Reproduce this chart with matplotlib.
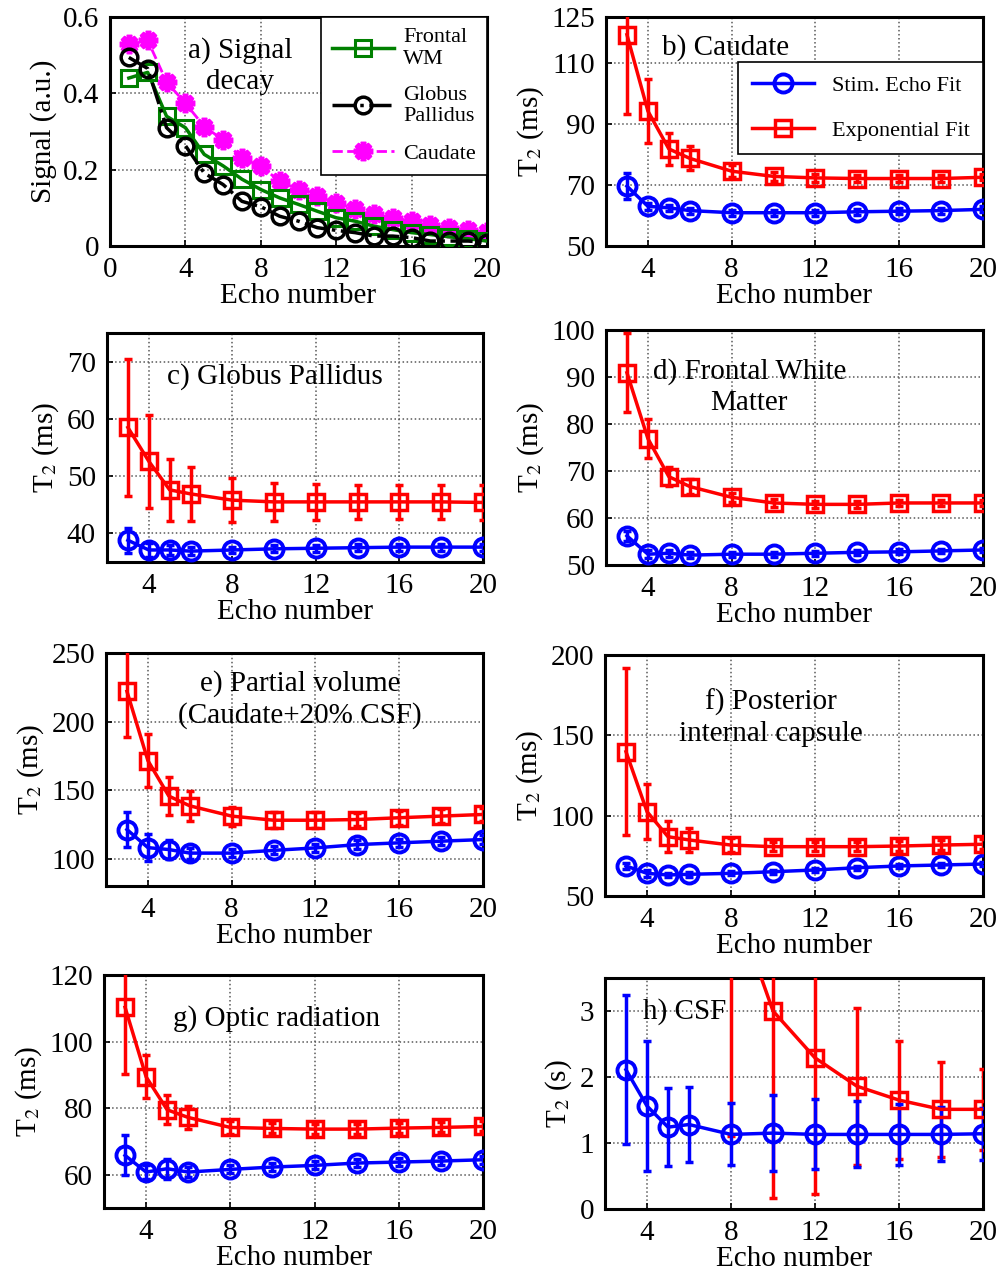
import numpy as np
import matplotlib
matplotlib.use("Agg")
import matplotlib.pyplot as plt

plt.rcParams['font.family'] = 'serif'
plt.rcParams['font.serif'] = ['Liberation Serif', 'DejaVu Serif']
plt.rcParams['mathtext.fontset'] = 'stix'
plt.rcParams['font.size'] = 21

# ---- panel a: signal decay ----
echo_all = list(range(1, 21))
sig_frontal = [0.44, 0.455, 0.34, 0.31, 0.24, 0.21, 0.175, 0.148, 0.126, 0.109,
               0.091, 0.074, 0.065, 0.052, 0.043, 0.035, 0.030, 0.024, 0.019, 0.013]
sig_globus = [0.494, 0.465, 0.31, 0.263, 0.191, 0.161, 0.117, 0.103, 0.078, 0.065,
              0.048, 0.041, 0.035, 0.026, 0.026, 0.022, 0.013, 0.013, 0.013, 0.009]
sig_caudate = [0.528, 0.539, 0.43, 0.374, 0.313, 0.278, 0.23, 0.209, 0.17, 0.148,
               0.13, 0.113, 0.097, 0.083, 0.074, 0.065, 0.054, 0.048, 0.043, 0.037]

# ---- panels b-h: T2 vs number of echoes ----
echoes = [3, 4, 5, 6, 8, 10, 12, 14, 16, 18, 20]

caud_stim = [69.6, 63.0, 62.5, 61.6, 60.9, 60.9, 60.9, 61.2, 61.4, 61.6, 62.0]
caud_stim_err = [4.3, 1.2, 1.0, 1.0, 1.0, 1.0, 1.0, 1.0, 1.0, 1.0, 1.0]
caud_exp = [119.2, 94.2, 81.8, 78.7, 74.5, 72.8, 72.3, 72.1, 72.1, 72.1, 72.5]
caud_exp_err = [26.0, 10.5, 5.2, 3.9, 2.0, 1.5, 1.2, 1.0, 1.0, 1.0, 1.0]

gp_stim = [38.8, 37.1, 37.1, 36.9, 37.1, 37.3, 37.4, 37.5, 37.6, 37.6, 37.6]
gp_stim_err = [2.2, 1.2, 0.8, 0.7, 0.6, 0.6, 0.6, 0.6, 0.6, 0.6, 0.6]
gp_exp = [58.5, 52.6, 47.6, 46.9, 45.8, 45.5, 45.5, 45.5, 45.5, 45.5, 45.4]
gp_exp_err = [11.9, 8.1, 5.4, 4.7, 3.8, 3.3, 3.2, 3.0, 3.0, 3.0, 3.0]

fwm_stim = [56.2, 52.3, 52.5, 52.1, 52.3, 52.3, 52.5, 52.7, 52.8, 53.0, 53.2]
fwm_stim_err = [1.0, 0.8, 0.7, 0.6, 0.5, 0.5, 0.5, 0.5, 0.5, 0.5, 0.5]
fwm_exp = [90.9, 76.9, 68.8, 66.7, 64.4, 63.2, 62.9, 62.9, 63.2, 63.2, 63.2]
fwm_exp_err = [8.4, 4.1, 2.0, 1.5, 1.0, 0.8, 0.7, 0.7, 0.7, 0.7, 0.7]

pv_stim = [121.2, 108.0, 106.6, 104.0, 104.0, 106.0, 107.8, 110.2, 111.5, 112.7, 113.9]
pv_stim_err = [13.0, 10.0, 7.0, 4.0, 3.0, 3.0, 3.0, 3.0, 3.0, 3.0, 3.0]
pv_exp = [222.0, 171.5, 145.6, 138.5, 131.0, 128.0, 128.0, 128.5, 129.8, 131.0, 132.2]
pv_exp_err = [33.0, 19.5, 14.0, 11.0, 7.0, 6.0, 6.0, 5.0, 5.0, 5.0, 5.0]

pic_stim = [68.7, 64.1, 63.1, 63.5, 64.1, 65.1, 66.2, 67.6, 68.7, 69.3, 69.9]
pic_stim_err = [2.0, 2.0, 1.5, 1.5, 1.2, 1.2, 1.2, 1.2, 1.2, 1.2, 1.2]
pic_exp = [139.8, 102.5, 86.9, 84.9, 81.7, 80.7, 80.7, 80.7, 81.1, 81.7, 82.2]
pic_exp_err = [52.0, 17.0, 9.5, 7.5, 4.5, 3.0, 3.0, 3.0, 3.0, 3.0, 3.0]

or_stim = [65.8, 60.8, 61.8, 60.8, 61.6, 62.3, 62.8, 63.5, 63.8, 64.1, 64.5]
or_stim_err = [6.0, 2.0, 3.0, 1.5, 1.2, 1.2, 1.2, 1.2, 1.2, 1.2, 1.2]
or_exp = [110.3, 89.4, 79.5, 77.2, 74.2, 73.9, 73.7, 73.7, 74.0, 74.2, 74.5]
or_exp_err = [20.0, 6.5, 4.4, 3.5, 2.0, 1.5, 1.5, 1.5, 1.5, 1.5, 1.5]

# CSF in seconds; the first exponential points lie above the axis
csf_stim = [2.11, 1.56, 1.24, 1.28, 1.13, 1.15, 1.13, 1.13, 1.13, 1.13, 1.14]
csf_stim_err = [1.13, 0.99, 0.59, 0.57, 0.47, 0.57, 0.53, 0.50, 0.46, 0.41, 0.39]
csf_exp = [12.0, 9.0, 7.0, 6.0, 4.8, 3.0, 2.29, 1.86, 1.65, 1.51, 1.51]
csf_exp_err = [5.0, 4.0, 3.0, 2.0, 3.7, 2.83, 2.07, 1.19, 0.89, 0.72, 0.61]

W, H = 1002, 1279
fig = plt.figure(figsize=(W / 100, H / 100), dpi=100)


def make_axes(l, t, r, b):
    return fig.add_axes([l / W, 1 - b / H, (r - l) / W, (b - t) / H])


def style(ax):
    for s in ax.spines.values():
        s.set_linewidth(2.2)
    ax.tick_params(direction='in', length=4, width=1.2, pad=8)
    ax.grid(True, linestyle=':', color='0.35', linewidth=1.1)
    ax.set_axisbelow(True)


# panel a
ax = make_axes(110, 17, 487, 246)
ax.plot(echo_all, sig_frontal, '-', color=(0, 0.5, 0), lw=2.5, marker='s',
        ms=11, mfc='none', mew=2.2, label='Frontal\nWM', zorder=3)
ax.plot(echo_all, sig_globus, '-.', color='k', lw=2.5, marker='o',
        ms=12, mfc='none', mew=2.5, label='Globus\nPallidus', zorder=4)
ax.plot(echo_all, sig_caudate, '--', color='magenta', lw=2, marker=(8, 2, 0),
        ms=14, mew=4, label='Caudate', zorder=2)
ax.set_xlim(0, 20)
ax.set_ylim(0, 0.6)
ax.set_xticks([0, 4, 8, 12, 16, 20])
ax.set_yticks([0, 0.2, 0.4, 0.6])
ax.set_yticklabels(['0', '0.2', '0.4', '0.6'])
ax.set_xlabel('Echo number', labelpad=0)
ax.set_ylabel('Signal (a.u.)', labelpad=4)
style(ax)
ax.text(0.345, 0.786, 'a) Signal\ndecay', transform=ax.transAxes,
        ha='center', va='center', multialignment='center', linespacing=1.25)
leg = ax.legend(loc='upper right', bbox_to_anchor=(1.0, 1.0), fontsize=16,
                fancybox=False, edgecolor='k', framealpha=1, handlelength=2.8,
                borderaxespad=0, labelspacing=0.75, handletextpad=0.4,
                borderpad=0.5)
leg.get_frame().set_linewidth(1.2)

# panels b-h
panels = [
    ((606, 17, 983, 246), caud_stim, caud_stim_err, caud_exp, caud_exp_err,
     (50, 125), [50, 70, 90, 110, 125], 'T$_2$ (ms)', 'b) Caudate', (0.316, 0.865)),
    ((107, 333, 483, 562), gp_stim, gp_stim_err, gp_exp, gp_exp_err,
     (35, 75), [40, 50, 60, 70], 'T$_2$ (ms)', 'c) Globus Pallidus', (0.447, 0.81)),
    ((606, 330, 983, 565), fwm_stim, fwm_stim_err, fwm_exp, fwm_exp_err,
     (50, 100), [50, 60, 70, 80, 90, 100], 'T$_2$ (ms)', 'd) Frontal White\nMatter', (0.38, 0.757)),
    ((106, 653, 483, 886), pv_stim, pv_stim_err, pv_exp, pv_exp_err,
     (80, 250), [100, 150, 200, 250], 'T$_2$ (ms)',
     'e) Partial volume\n(Caudate+20% CSF)', (0.515, 0.80)),
    ((605, 655, 983, 896), pic_stim, pic_stim_err, pic_exp, pic_exp_err,
     (50, 200), [50, 100, 150, 200], 'T$_2$ (ms)',
     'f) Posterior\ninternal capsule', (0.44, 0.74)),
    ((104, 975, 483, 1208), or_stim, or_stim_err, or_exp, or_exp_err,
     (50, 120), [60, 80, 100, 120], 'T$_2$ (ms)', 'g) Optic radiation', (0.456, 0.815)),
    ((605, 978, 983, 1209), csf_stim, csf_stim_err, csf_exp, csf_exp_err,
     (0, 3.5), [0, 1, 2, 3], 'T$_2$ (s)', 'h) CSF', (0.21, 0.853)),
]

for i, (box, stim, stim_err, expo, expo_err, ylim, yticks, ylab, title, tpos) in enumerate(panels):
    ax = make_axes(*box)
    ax.errorbar(echoes, expo, yerr=expo_err, fmt='none', ecolor='red',
                elinewidth=2.5, capsize=3, capthick=2.5, zorder=3)
    ax.errorbar(echoes, stim, yerr=stim_err, fmt='none', ecolor='blue',
                elinewidth=2.5, capsize=3, capthick=2.5, zorder=3)
    h_stim, = ax.plot(echoes, stim, '-', color='blue', lw=2.5, marker='o', ms=13,
                      mfc='none', mew=2.8, label='Stim. Echo Fit', zorder=4)
    h_exp, = ax.plot(echoes, expo, '-', color='red', lw=2.5, marker='s', ms=12,
                     mfc='none', mew=2.5, label='Exponential Fit', zorder=4)
    ax.set_xlim(2, 20)
    ax.set_ylim(*ylim)
    ax.set_xticks([4, 8, 12, 16, 20])
    ax.set_yticks(yticks)
    ax.set_xlabel('Echo number', labelpad=0)
    ax.set_ylabel(ylab, labelpad=4)
    style(ax)
    ax.text(tpos[0], tpos[1], title, transform=ax.transAxes, ha='center',
            va='center', multialignment='center', linespacing=1.25, zorder=1)
    if i == 0:
        leg = ax.legend(handles=[h_stim, h_exp], loc='upper right',
                        bbox_to_anchor=(1.0, 0.805), fontsize=16, fancybox=False,
                        edgecolor='k', framealpha=1, borderaxespad=0,
                        handlelength=2.8, labelspacing=1.1, borderpad=0.6)
        leg.get_frame().set_linewidth(1.2)

fig.savefig('out.png', dpi=100)
